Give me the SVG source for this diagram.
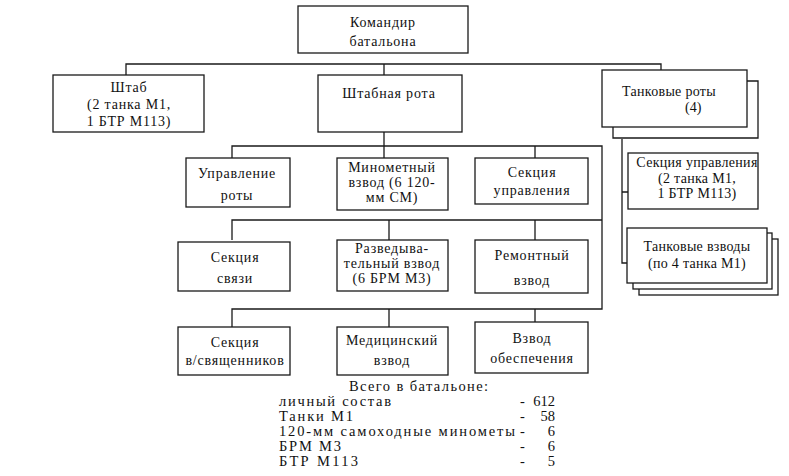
<svg xmlns="http://www.w3.org/2000/svg" width="789" height="476" viewBox="0 0 789 476">
<style>
.b{fill:#fff;stroke:#1a1a1a;stroke-width:1.3}
.c{fill:none;stroke:#1a1a1a;stroke-width:1.3}
.t{font-family:'Liberation Serif','DejaVu Serif',serif;font-size:14px;fill:#111}
.m{text-anchor:middle;letter-spacing:0.8px}
.r{text-anchor:middle;letter-spacing:0.3px}
.s{font-size:14.5px}
.e{text-anchor:end}
</style>
<rect width="789" height="476" fill="#fff"/>
<g id="connectors">
<path class="c" d="M126,75 V64 H661 V70 M384,64 V75"/>
<path class="c" d="M384,132 V146 M232,158 V146 H602 V309 H232 V327 M384,146 V158 M535,146 V158"/>
<path class="c" d="M232,240 V220 H602 M389,220 V240 M535,220 V240"/>
<path class="c" d="M389,309 V327 M535,309 V322"/>
<path class="c" d="M622,139 V263 H628 M622,192 H628"/>
</g>
<g class="t" font-family="Liberation Serif, DejaVu Serif, serif">
<g id="n-commander">
<rect class="b" x="298" y="6" width="170" height="47"/>
<text class="m" x="383" y="27">Командир</text>
<text class="m" x="383" y="46">батальона</text>
</g>
<g id="n-shtab">
<rect class="b" x="53" y="75" width="151" height="57"/>
<text class="m" x="129" y="92">Штаб</text>
<text class="m" x="129" y="109">(2 танка М1,</text>
<text class="m" x="129" y="126">1 БТР М113)</text>
</g>
<g id="n-hq-company">
<rect class="b" x="318" y="75" width="144" height="57"/>
<text class="m" x="389" y="98">Штабная рота</text>
</g>
<g id="n-tank-companies">
<path class="c" d="M747,81 H758 V138 H613 V127"/>
<rect class="b" x="602" y="70" width="145" height="57"/>
<text x="622" y="96" letter-spacing="0.3">Танковые роты</text>
<text x="685" y="112">(4)</text>
</g>
<g id="n-company-control">
<rect class="b" x="186" y="158" width="104" height="49"/>
<text class="m" x="237" y="178">Управление</text>
<text class="m" x="237" y="200">роты</text>
</g>
<g id="n-mortar">
<rect class="b" x="337" y="158" width="111" height="52"/>
<text class="m" x="392" y="172">Минометный</text>
<text class="m" x="392" y="187">взвод (6 120-</text>
<text class="m" x="392" y="202">мм СМ)</text>
</g>
<g id="n-control-section">
<rect class="b" x="475" y="158" width="113" height="46"/>
<text class="m" x="532" y="177">Секция</text>
<text class="m" x="532" y="195">управления</text>
</g>
<g id="n-signal">
<rect class="b" x="178" y="242" width="112" height="49"/>
<text class="m" x="235" y="262">Секция</text>
<text class="m" x="235" y="283">связи</text>
</g>
<g id="n-recon">
<rect class="b" x="337" y="240" width="111" height="51"/>
<text class="m" x="392" y="253">Разведыва-</text>
<text class="m" x="392" y="268">тельный взвод</text>
<text class="m" x="392" y="283">(6 БРМ М3)</text>
</g>
<g id="n-repair">
<rect class="b" x="475" y="240" width="113" height="53"/>
<text class="m" x="532" y="260">Ремонтный</text>
<text class="m" x="532" y="285">взвод</text>
</g>
<g id="n-chaplains">
<rect class="b" x="178" y="327" width="112" height="48"/>
<text class="m" x="235" y="347">Секция</text>
<text class="m" x="235" y="365">в/священников</text>
</g>
<g id="n-medical">
<rect class="b" x="337" y="327" width="111" height="48"/>
<text class="m" x="392" y="345">Медицинский</text>
<text class="m" x="392" y="365">взвод</text>
</g>
<g id="n-support">
<rect class="b" x="475" y="322" width="113" height="51"/>
<text class="m" x="532" y="343">Взвод</text>
<text class="m" x="532" y="363">обеспечения</text>
</g>
<g id="n-tank-control">
<rect class="b" x="628" y="153" width="130" height="56"/>
<text class="r" x="697" y="167">Секция управления</text>
<text class="r" x="697" y="183">(2 танка М1,</text>
<text class="r" x="697" y="198">1 БТР М113)</text>
</g>
<g id="n-tank-platoons">
<rect class="b" x="639" y="239" width="139" height="56"/>
<rect class="b" x="633" y="233" width="139" height="56"/>
<rect class="b" x="627" y="228" width="140" height="55"/>
<text class="r" x="697" y="251">Танковые взводы</text>
<text class="r" x="697" y="268">(по 4 танка М1)</text>
</g>
<g id="summary">
<text class="s" x="349" y="391" textLength="139" lengthAdjust="spacing">Всего в батальоне:</text>
<text class="s" x="279" y="406" textLength="112" lengthAdjust="spacing">личный состав</text>
<text class="s" x="279" y="421" textLength="74" lengthAdjust="spacing">Танки М1</text>
<text class="s" x="279" y="436" textLength="236" lengthAdjust="spacing">120-мм самоходные минометы</text>
<text class="s" x="279" y="451" textLength="62" lengthAdjust="spacing">БРМ М3</text>
<text class="s" x="279" y="466" textLength="79" lengthAdjust="spacing">БТР М113</text>
<text class="s" x="520" y="406">-</text>
<text class="s" x="520" y="421">-</text>
<text class="s" x="520" y="436">-</text>
<text class="s" x="520" y="451">-</text>
<text class="s" x="520" y="466">-</text>
<text class="s e" x="555" y="406">612</text>
<text class="s e" x="555" y="421">58</text>
<text class="s e" x="555" y="436">6</text>
<text class="s e" x="555" y="451">6</text>
<text class="s e" x="555" y="466">5</text>
</g>
</g>
</svg>
